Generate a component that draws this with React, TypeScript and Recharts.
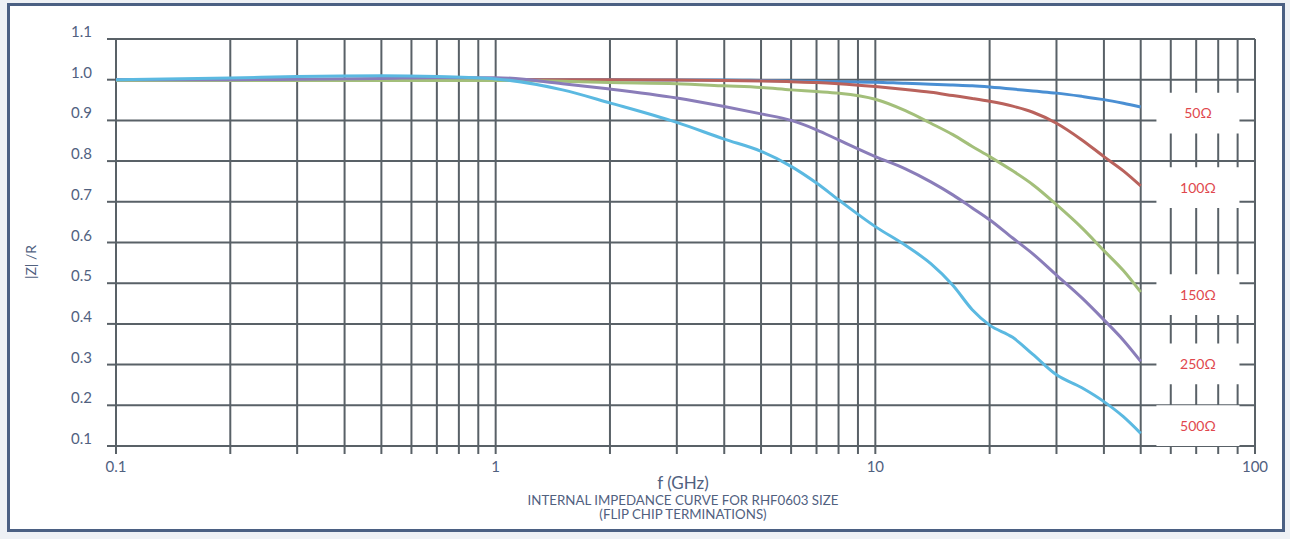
import React from 'react';
import { LineChart, Line, XAxis, YAxis, CartesianGrid, ReferenceArea } from 'recharts';

// Frequencies (GHz) at which the curves are sampled
const freqs = [0.1, 0.2, 0.3, 0.5, 0.7, 1, 1.5, 2, 3, 4, 5, 6, 7, 8, 10, 12, 14, 16, 18, 20, 23, 26, 30, 35, 40, 45, 50];

// |Z|/R values for each termination
const z50 = [1.0, 1.0, 1.0, 1.0, 1.0, 1.0, 1.0, 1.0, 0.999, 0.999, 0.998, 0.997, 0.996, 0.995, 0.994, 0.991, 0.989, 0.987, 0.985, 0.982, 0.977, 0.972, 0.967, 0.959, 0.951, 0.942, 0.933];
const z100 = [1.0, 1.0, 1.0, 1.0, 1.0, 1.0, 1.0, 1.0, 0.999, 0.998, 0.997, 0.995, 0.993, 0.99, 0.983, 0.976, 0.969, 0.961, 0.954, 0.947, 0.935, 0.92, 0.893, 0.852, 0.811, 0.776, 0.739];
const z150 = [0.998, 0.998, 0.998, 0.998, 0.998, 0.998, 0.996, 0.993, 0.99, 0.985, 0.981, 0.975, 0.971, 0.967, 0.952, 0.924, 0.893, 0.865, 0.836, 0.811, 0.776, 0.742, 0.693, 0.636, 0.58, 0.531, 0.478];
const z250 = [1.0, 1.0, 1.001, 1.003, 1.005, 1.005, 0.99, 0.977, 0.955, 0.934, 0.916, 0.9, 0.877, 0.852, 0.811, 0.781, 0.749, 0.717, 0.685, 0.656, 0.611, 0.572, 0.52, 0.464, 0.41, 0.36, 0.308];
const z500 = [1.0, 1.004, 1.008, 1.01, 1.008, 1.002, 0.975, 0.943, 0.895, 0.854, 0.824, 0.787, 0.746, 0.705, 0.639, 0.593, 0.548, 0.495, 0.435, 0.397, 0.367, 0.325, 0.275, 0.243, 0.209, 0.172, 0.131];

const seriesKeys = ['s50', 's100', 's150', 's250', 's500'];
const seriesNames = ['50Ω', '100Ω', '150Ω', '250Ω', '500Ω'];
const seriesColors = ['#4a8fd3', '#b9625c', '#a3bf7a', '#8a7db9', '#5bb9e1'];
const seriesValues = [z50, z100, z150, z250, z500];

const xTicks = [0.1, 0.2, 0.3, 0.4, 0.5, 0.6, 0.7, 0.8, 0.9, 1, 2, 3, 4, 5, 6, 7, 8, 9, 10, 20, 30, 40, 50, 60, 70, 80, 90, 100];
const xTickLabels: Record<string, string> = { '0.1': '0.1', '1': '1', '10': '10', '100': '100' };
const yTicks = [0.1, 0.2, 0.3, 0.4, 0.5, 0.6, 0.7, 0.8, 0.9, 1.0, 1.1];

// label boxes in the right margin of the plot (frequency span and |Z|/R centre of each label)
const labelBoxX = [55, 91];
const labelCenters = [0.918, 0.735, 0.472, 0.302, 0.15];
const labelHalfHeight = 0.05;

const data = freqs.map((f, i) => {
  const row: Record<string, number> = { f };
  seriesKeys.forEach((k, j) => {
    row[k] = seriesValues[j][i];
  });
  return row;
});

const textColor = '#51617f';
const gridColor = '#596167';
const font = 'Lato, "Open Sans", sans-serif';

const XTick = (props: any) => {
  const { x, y, payload } = props;
  const label = xTickLabels[String(payload.value)];
  if (!label) return null;
  return (
    <text x={x} y={y + 16} textAnchor="middle" fill={textColor} fontSize={15} fontFamily={font}>
      {label}
    </text>
  );
};

const YTick = (props: any) => {
  const { x, y, payload } = props;
  return (
    <text x={x} y={y - 2} textAnchor="end" fill={textColor} fontSize={15} fontFamily={font}>
      {Number(payload.value).toFixed(1)}
    </text>
  );
};

export default function App() {
  return (
    <div style={{ position: 'absolute', left: 0, top: 0, width: 1290, height: 539, background: '#eef1f5', overflow: 'hidden' }}>
      <div
        style={{
          position: 'absolute',
          left: 7,
          top: 3,
          width: 1278,
          height: 529,
          boxSizing: 'border-box',
          border: '3px solid #4b6083',
          background: '#ffffff',
        }}
      />
      <div style={{ position: 'absolute', left: 0, top: 0 }}>
        <LineChart width={1290} height={539} data={data} margin={{ top: 39, right: 35, left: 0, bottom: 0 }}>
          <CartesianGrid stroke={gridColor} strokeWidth={2} />
          <XAxis
            dataKey="f"
            type="number"
            scale="log"
            domain={[0.1, 100]}
            ticks={xTicks}
            interval={0}
            allowDataOverflow
            axisLine={false}
            tickSize={8}
            tickLine={{ stroke: gridColor, strokeWidth: 2 }}
            tick={<XTick />}
            height={93}
          />
          <YAxis
            type="number"
            domain={[0.1, 1.1]}
            ticks={yTicks}
            interval={0}
            allowDataOverflow
            axisLine={false}
            tickSize={9}
            tickMargin={15}
            tickLine={{ stroke: gridColor, strokeWidth: 2 }}
            tick={<YTick />}
            width={116}
          />
          {seriesKeys.map((k, j) => (
            <ReferenceArea
              key={'box' + k}
              x1={labelBoxX[0]}
              x2={labelBoxX[1]}
              y1={labelCenters[j] - labelHalfHeight}
              y2={labelCenters[j] + labelHalfHeight}
              ifOverflow="visible"
              fill="#ffffff"
              fillOpacity={1}
              stroke="none"
              label={{ value: seriesNames[j], fill: '#e0474d', fontSize: 14, fontFamily: font, position: 'center' }}
            />
          ))}
          {seriesKeys.map((k, j) => (
            <Line
              key={k}
              dataKey={k}
              name={seriesNames[j]}
              type="monotone"
              stroke={seriesColors[j]}
              strokeWidth={3}
              dot={false}
              activeDot={false}
              isAnimationActive={false}
            />
          ))}
        </LineChart>
      </div>
      <div
        style={{
          position: 'absolute',
          left: 30,
          top: 262,
          transform: 'translate(-50%, -50%) rotate(-90deg)',
          color: textColor,
          fontFamily: font,
          fontSize: 14,
          whiteSpace: 'nowrap',
        }}
      >
        |Z| /R
      </div>
      <div
        style={{
          position: 'absolute',
          left: 0,
          width: 1366,
          top: 474,
          textAlign: 'center',
          color: textColor,
          fontFamily: font,
          fontSize: 17,
          lineHeight: '18px',
        }}
      >
        f (GHz)
      </div>
      <div
        style={{
          position: 'absolute',
          left: 0,
          width: 1366,
          top: 493,
          textAlign: 'center',
          color: textColor,
          fontFamily: font,
          fontSize: 13.3,
          lineHeight: '14px',
        }}
      >
        INTERNAL IMPEDANCE CURVE FOR RHF0603 SIZE
        <br />
        (FLIP CHIP TERMINATIONS)
      </div>
    </div>
  );
}
